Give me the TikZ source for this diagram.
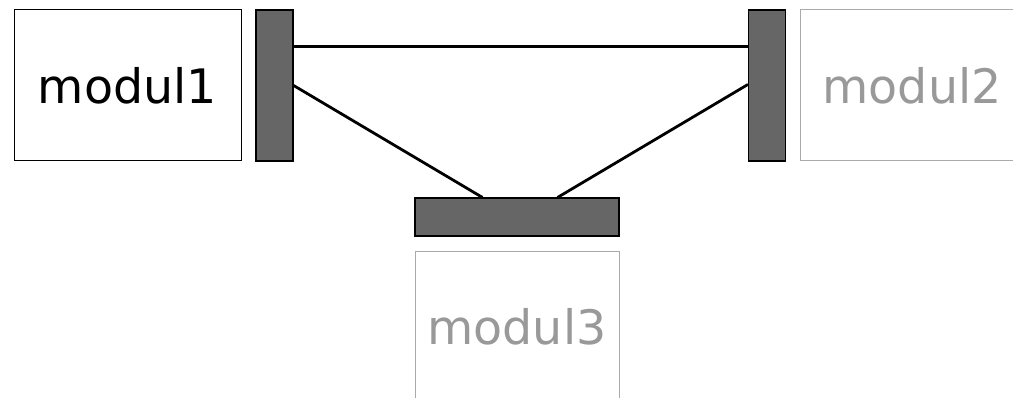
\documentclass[tikz,border=0pt]{standalone}
\usepackage{fontspec}
\setmainfont{DejaVu Sans}
\definecolor{barfill}{HTML}{666666}
\definecolor{graytext}{HTML}{999999}
\definecolor{grayborder}{HTML}{AAAAAA}
\begin{document}
\begin{tikzpicture}[x=1pt,y=-1pt,
  modbox/.style={draw, line width=1pt, minimum width=227pt, minimum height=151pt, inner sep=0pt, font=\fontsize{47.5}{52}\selectfont},
  inactive/.style={modbox, draw=grayborder, text=graytext},
  vbar/.style={draw=black, fill=barfill, line width=1.1pt, minimum width=37pt, minimum height=151pt, inner sep=0pt},
  hbar/.style={draw=black, fill=barfill, line width=1.1pt, minimum width=204pt, minimum height=38pt, inner sep=0pt},
  link/.style={line width=2.8pt}]
\useasboundingbox (0,0) rectangle (1013,398);
\node[modbox, draw=black] (m1) at (127.5,85.5) {modul1};
\node[vbar] (b1) at (274.5,85.5) {};
\node[vbar] (b2) at (767,85.5) {};
\node[inactive, minimum width=224pt] (m2) at (912,85.5) {modul2};
\node[hbar] (b3) at (517,217) {};
\node[inactive, minimum width=204pt, minimum height=149pt] (m3) at (517,326.5) {modul3};
\draw[link] ([yshift=-37pt]b1.north east) -- ([yshift=-37pt]b2.north west);
\draw[link] ([yshift=-76pt]b1.north east) -- ([xshift=68pt]b3.north west);
\draw[link] ([yshift=-75pt]b2.north west) -- ([xshift=-62pt]b3.north east);
\end{tikzpicture}
\end{document}
